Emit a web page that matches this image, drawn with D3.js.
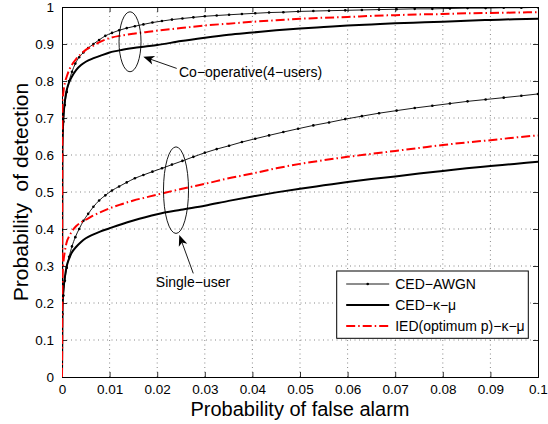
<!DOCTYPE html>
<html>
<head>
<meta charset="utf-8">
<script src="https://cdn.jsdelivr.net/npm/d3@7"></script>
<style>
  body { margin: 0; background: #fff; }
  svg { display: block; font-family: "Liberation Sans", Arial, Helvetica, sans-serif; }
</style>
</head>
<body>
<div id="chart"></div>
<script>
// x values (probability of false alarm) for the kappa-mu curves
const pf = [0, 0.0001, 0.0003, 0.0006, 0.001, 0.0015, 0.002, 0.003, 0.004, 0.005, 0.0065, 0.008, 0.01,
  0.0125, 0.015, 0.0175, 0.02, 0.025, 0.03, 0.035, 0.04, 0.045, 0.05, 0.055, 0.06, 0.065, 0.07,
  0.075, 0.08, 0.085, 0.09, 0.095, 0.1];

// x values of the AWGN curves (one marker per point)
const pfAwgn = [0, 0.0001, 0.0003, 0.0006, 0.001, 0.0015, 0.0021, 0.0028, 0.0036, 0.0045, 0.0055, 0.0066,
  0.0078, 0.0091, 0.0105, 0.012, 0.0136, 0.0153, 0.0171, 0.019, 0.021, 0.0231, 0.0253, 0.0276, 0.03,
  0.0325, 0.0351, 0.0378, 0.0406, 0.0435, 0.0465, 0.0496, 0.0528, 0.0561, 0.0595, 0.063, 0.0666,
  0.0703, 0.0741, 0.0778, 0.0815, 0.0852, 0.089, 0.0928, 0.0965, 0.1];

// single-user
const singleAwgn = [0, 0.17, 0.22, 0.26, 0.295, 0.325, 0.353, 0.378, 0.40, 0.422, 0.441, 0.46,
  0.477, 0.491, 0.504, 0.515, 0.526, 0.537, 0.546, 0.555, 0.564, 0.574, 0.584, 0.595, 0.606,
  0.616, 0.625, 0.635, 0.644, 0.653, 0.662, 0.671, 0.68, 0.688, 0.697, 0.705, 0.713,
  0.72, 0.727, 0.733, 0.739, 0.745, 0.75, 0.755, 0.76, 0.765];
const singleKm = [0, 0.19, 0.235, 0.27, 0.30, 0.32, 0.335, 0.352, 0.365, 0.375, 0.385, 0.393, 0.402,
  0.413, 0.423, 0.432, 0.44, 0.452, 0.463, 0.476, 0.488, 0.499, 0.509, 0.518, 0.527, 0.535, 0.542,
  0.55, 0.557, 0.564, 0.57, 0.576, 0.582];
const singleIed = [0, 0.27, 0.31, 0.34, 0.365, 0.38, 0.392, 0.408, 0.418, 0.425, 0.436, 0.445, 0.456,
  0.467, 0.477, 0.485, 0.493, 0.508, 0.522, 0.537, 0.55, 0.564, 0.576, 0.586, 0.595, 0.603, 0.611,
  0.619, 0.627, 0.634, 0.64, 0.647, 0.653];

// co-operative (4 users)
const coopAwgn = [0, 0.60, 0.69, 0.735, 0.77, 0.80, 0.825, 0.847, 0.864, 0.877, 0.889, 0.90,
  0.911, 0.922, 0.93, 0.937, 0.943, 0.948, 0.953, 0.958, 0.962, 0.966, 0.969, 0.972, 0.975,
  0.977, 0.979, 0.981, 0.983, 0.985, 0.986, 0.988, 0.989, 0.99, 0.991, 0.992, 0.993,
  0.994, 0.995, 0.995, 0.996, 0.997, 0.997, 0.998, 0.998, 0.999];
const coopKm = [0, 0.62, 0.70, 0.745, 0.776, 0.797, 0.81, 0.83, 0.843, 0.852, 0.861, 0.868, 0.877,
  0.884, 0.889, 0.893, 0.897, 0.908, 0.917, 0.925, 0.931, 0.937, 0.942, 0.946, 0.95, 0.953, 0.956,
  0.958, 0.96, 0.963, 0.965, 0.967, 0.968];
const coopIed = [0, 0.74, 0.77, 0.795, 0.812, 0.83, 0.842, 0.86, 0.873, 0.884, 0.895, 0.906, 0.916,
  0.923, 0.928, 0.932, 0.936, 0.943, 0.95, 0.955, 0.96, 0.964, 0.968, 0.971, 0.973, 0.976, 0.978,
  0.98, 0.981, 0.983, 0.984, 0.985, 0.986];

const xTicks = [0, 0.01, 0.02, 0.03, 0.04, 0.05, 0.06, 0.07, 0.08, 0.09, 0.1];
const yTicks = [0, 0.1, 0.2, 0.3, 0.4, 0.5, 0.6, 0.7, 0.8, 0.9, 1];
const legendLabels = ['CED\u2212AWGN', 'CED\u2212\u03ba\u2212\u03bc', 'IED(optimum p)\u2212\u03ba\u2212\u03bc'];

const W = 548, H = 424;
const margin = { top: 7, right: 10, bottom: 47, left: 62 };
const iw = W - margin.left - margin.right;
const ih = H - margin.top - margin.bottom;

const x = d3.scaleLinear().domain([0, 0.1]).range([0, iw]);
const y = d3.scaleLinear().domain([0, 1]).range([ih, 0]);

const svg = d3.select('#chart').append('svg').attr('width', W).attr('height', H);
const g = svg.append('g').attr('transform', `translate(${margin.left},${margin.top})`);

svg.append('defs').append('clipPath').attr('id', 'plotClip')
  .append('rect').attr('width', iw).attr('height', ih);

// dotted grid
g.append('g').selectAll('line').data(xTicks.slice(1, -1)).enter().append('line')
  .attr('x1', d => x(d)).attr('x2', d => x(d)).attr('y1', 0).attr('y2', ih)
  .attr('stroke', '#555').attr('stroke-width', 0.7).attr('stroke-dasharray', '1,3.5');
g.append('g').selectAll('line').data(yTicks.slice(1, -1)).enter().append('line')
  .attr('y1', d => y(d)).attr('y2', d => y(d)).attr('x1', 0).attr('x2', iw)
  .attr('stroke', '#555').attr('stroke-width', 0.7).attr('stroke-dasharray', '1,3.5');

// axes, MATLAB style: ticks inward on all sides
const tickLen = 5;
const fmt = d => d === 0 ? '0' : (d === 1 ? '1' : String(+d.toFixed(2)));
g.append('g').attr('transform', `translate(0,${ih})`)
  .call(d3.axisBottom(x).tickValues(xTicks).tickSize(-tickLen).tickPadding(7).tickFormat(fmt));
g.append('g').call(d3.axisLeft(y).tickValues(yTicks).tickSize(-tickLen).tickPadding(8).tickFormat(fmt));
g.append('g').call(d3.axisTop(x).tickValues(xTicks).tickSize(-tickLen).tickFormat(''));
g.append('g').attr('transform', `translate(${iw},0)`)
  .call(d3.axisRight(y).tickValues(yTicks).tickSize(-tickLen).tickFormat(''));
g.selectAll('.domain').attr('stroke', '#000').attr('stroke-width', 1);
g.selectAll('.tick line').attr('stroke', '#000').attr('stroke-width', 0.8);
g.selectAll('.tick text').attr('fill', '#000').style('font-size', '13.5px')
  .style('font-family', '"Liberation Sans", Arial, sans-serif');

// curves
const plot = g.append('g').attr('clip-path', 'url(#plotClip)');
const line = d3.line().x(d => x(d[0])).y(d => y(d[1])).curve(d3.curveMonotoneX);
const styles = {
  awgn: { stroke: '#000', width: 0.9, dash: null },
  km: { stroke: '#000', width: 2, dash: null },
  ied: { stroke: '#ff0000', width: 2, dash: '9,3,1.5,3' }
};
const series = [
  { xs: pfAwgn, ys: singleAwgn, s: styles.awgn, markers: true },
  { xs: pfAwgn, ys: coopAwgn, s: styles.awgn, markers: true },
  { xs: pf, ys: singleKm, s: styles.km },
  { xs: pf, ys: coopKm, s: styles.km },
  { xs: pf, ys: singleIed, s: styles.ied },
  { xs: pf, ys: coopIed, s: styles.ied }
];
series.forEach(sr => {
  const pts = sr.xs.map((v, i) => [v, sr.ys[i]]);
  plot.append('path').datum(pts)
    .attr('fill', 'none')
    .attr('stroke', sr.s.stroke)
    .attr('stroke-width', sr.s.width)
    .attr('stroke-dasharray', sr.s.dash)
    .attr('d', line);
  if (sr.markers) {
    plot.append('g').selectAll('circle').data(pts.slice(1)).enter().append('circle')
      .attr('cx', d => x(d[0])).attr('cy', d => y(d[1])).attr('r', 1.3).attr('fill', '#000');
  }
});

// annotations (ellipses + arrows) in data units
const ann = g.append('g');
function ellipse(cx, cy, rx, ry) {
  ann.append('ellipse')
    .attr('cx', x(cx)).attr('cy', y(cy))
    .attr('rx', x(rx) - x(0)).attr('ry', y(0) - y(ry))
    .attr('fill', 'none').attr('stroke', '#000').attr('stroke-width', 0.9);
}
function arrow(x0, y0, x1, y1) {
  const ax = x(x0), ay = y(y0), bx = x(x1), by = y(y1);
  const ang = Math.atan2(by - ay, bx - ax);
  const len = 11, half = 4.5, back = 3;
  const ux = Math.cos(ang), uy = Math.sin(ang);
  const px = -uy, py = ux;
  ann.append('line').attr('x1', ax).attr('y1', ay)
    .attr('x2', bx - ux * 6).attr('y2', by - uy * 6)
    .attr('stroke', '#000').attr('stroke-width', 0.9);
  const pts = [
    [bx, by],
    [bx - ux * len + px * half, by - uy * len + py * half],
    [bx - ux * (len - back), by - uy * (len - back)],
    [bx - ux * len - px * half, by - uy * len - py * half]
  ];
  ann.append('polygon').attr('points', pts.map(p => p.join(',')).join(' ')).attr('fill', '#000');
}
ellipse(0.01429, 0.906, 0.00231, 0.081);
ellipse(0.02395, 0.505, 0.00263, 0.117);
arrow(0.0241, 0.834, 0.01708, 0.8657);
arrow(0.02758, 0.280, 0.02464, 0.3838);
ann.append('text').attr('x', x(0.02458)).attr('y', y(0.811))
  .attr('font-size', '14px').attr('fill', '#000').text('Co\u2212operative(4\u2212users)');
ann.append('text').attr('x', x(0.02752)).attr('y', y(0.2424)).attr('text-anchor', 'middle')
  .attr('font-size', '14px').attr('fill', '#000').text('Single\u2212user');

// legend
const leg = g.append('g').attr('transform', `translate(${336.7 - margin.left},${271 - margin.top})`);
leg.append('rect').attr('width', 191.6).attr('height', 67.3)
  .attr('fill', '#fff').attr('stroke', '#000').attr('stroke-width', 1);
[styles.awgn, styles.km, styles.ied].forEach((s, i) => {
  const ry = 13 + i * 21;
  leg.append('line').attr('x1', 9.5).attr('x2', 52.5).attr('y1', ry).attr('y2', ry)
    .attr('stroke', s.stroke).attr('stroke-width', s.width).attr('stroke-dasharray', s.dash);
  if (i === 0) leg.append('circle').attr('cx', 31).attr('cy', ry).attr('r', 1.3).attr('fill', '#000');
  leg.append('text').attr('x', 58.5).attr('y', ry + 5).attr('font-size', '14px').attr('fill', '#000')
    .text(legendLabels[i]);
});

// axis labels
svg.append('text').attr('x', margin.left + iw / 2).attr('y', 416).attr('text-anchor', 'middle')
  .attr('font-size', '20px').attr('fill', '#000').text('Probability of false alarm');
svg.append('text').attr('transform', `translate(28,${margin.top + ih / 2}) rotate(-90)`)
  .attr('text-anchor', 'middle').attr('font-size', '21px').attr('fill', '#000')
  .attr('xml:space', 'preserve').style('white-space', 'pre')
  .text('Probability  of detection');
</script>
</body>
</html>
